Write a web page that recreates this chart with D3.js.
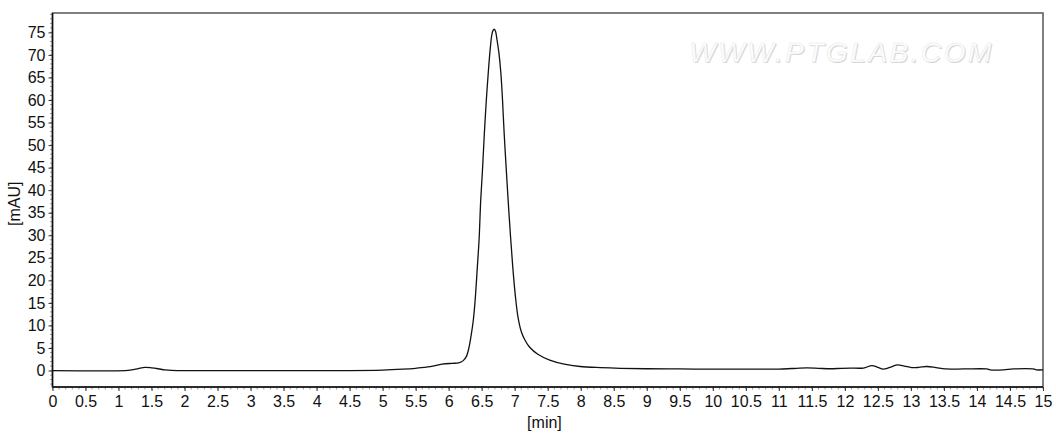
<!DOCTYPE html>
<html>
<head>
<meta charset="utf-8">
<script src="https://cdn.jsdelivr.net/npm/d3@7"></script>
<style>
  body { margin: 0; background: #fff; }
  svg { display: block; font-family: "Liberation Sans", Arial, sans-serif; }
</style>
</head>
<body>
<div id="chart"></div>
<script>
// chromatogram trace
const times = [0, 1.1, 1.2, 1.3, 1.4, 1.5, 1.6, 1.7, 1.8, 2, 4.5, 5.0, 5.3, 5.5, 5.72, 5.9, 6.05, 6.15, 6.22, 6.27, 6.31, 6.34, 6.373, 6.40, 6.434, 6.46, 6.485, 6.51, 6.54, 6.57, 6.606, 6.63, 6.65, 6.67, 6.69, 6.71, 6.73, 6.76, 6.79, 6.815, 6.84, 6.87, 6.90, 6.935, 6.97, 7.01, 7.05, 7.1, 7.15, 7.23, 7.35, 7.53, 7.75, 7.99, 8.3, 8.6, 9.0, 9.5, 10, 10.5, 11.0, 11.2, 11.42, 11.6, 11.78, 11.95, 12.08, 12.28, 12.41, 12.5, 12.58, 12.68, 12.79, 12.9, 13.01, 13.12, 13.24, 13.38, 13.52, 13.8, 14.15, 14.2, 14.4, 14.55, 14.85, 14.9, 15];
const mau = [0, 0, 0.15, 0.45, 0.7, 0.6, 0.4, 0.15, 0.02, 0, 0, 0.1, 0.3, 0.5, 0.85, 1.4, 1.6, 1.7, 2.2, 3.2, 5.3, 7.8, 11.2, 15.5, 23, 29, 37.8, 44, 52.6, 60, 67.4, 71.5, 74.2, 75.4, 75.7, 75.2, 73.5, 70.5, 66, 60, 52.6, 45, 37.8, 30, 23, 16.5, 11.8, 8.6, 6.9, 5.1, 3.6, 2.3, 1.4, 0.9, 0.65, 0.5, 0.4, 0.35, 0.3, 0.3, 0.32, 0.45, 0.58, 0.5, 0.4, 0.5, 0.55, 0.55, 1.1, 0.7, 0.3, 0.7, 1.25, 1.0, 0.65, 0.7, 0.9, 0.65, 0.35, 0.35, 0.35, 0.15, 0.15, 0.35, 0.35, 0.15, 0.15];

const xTicks = d3.range(0, 15.01, 0.5);
const yTicks = d3.range(0, 76, 5);
const watermark = "WWW.PTGLAB.COM";

const W = 1056, H = 437;
const margin = {top: 13, right: 13, bottom: 50, left: 52.5};
const width = W - margin.left - margin.right;
const height = H - margin.top - margin.bottom;

const svg = d3.select("#chart").append("svg")
    .attr("width", W)
    .attr("height", H);

const g = svg.append("g")
    .attr("transform", "translate(" + margin.left + "," + margin.top + ")");

const x = d3.scaleLinear().domain([0, 15]).range([0, width]);
const y = d3.scaleLinear().domain([-3.65, 79.3]).range([height, 0]);

// watermark (embossed look: grey shadow + white face)
[[1, 1, "#d4d4d4", "none"], [0, 0, "#ffffff", "#e6e6e6"]].forEach(([dx, dy, fill, stroke]) => {
    g.append("text")
        .attr("x", x(11.95) + dx)
        .attr("y", 49 + dy)
        .attr("text-anchor", "middle")
        .style("font-size", "28px")
        .style("font-style", "italic")
        .style("letter-spacing", "2.5px")
        .attr("fill", fill)
        .attr("stroke", stroke)
        .attr("stroke-width", 0.5)
        .text(watermark);
});

// minor ticks
g.append("g").selectAll("line")
    .data(d3.range(0, 150.5, 1).map(d => d / 10))
    .join("line")
    .attr("x1", d => x(d)).attr("x2", d => x(d))
    .attr("y1", height).attr("y2", height + 2.5)
    .attr("stroke", "#999").attr("stroke-width", 1);

g.append("g").selectAll("line")
    .data(d3.range(-3, 80, 1))
    .join("line")
    .attr("y1", d => y(d)).attr("y2", d => y(d))
    .attr("x1", 0).attr("x2", -2.5)
    .attr("stroke", "#999").attr("stroke-width", 1);

// axes
const xAxis = d3.axisBottom(x)
    .tickValues(xTicks)
    .tickSize(4)
    .tickPadding(5)
    .tickFormat(d3.format("~g"));

const yAxis = d3.axisLeft(y)
    .tickValues(yTicks)
    .tickSize(4)
    .tickPadding(3)
    .tickFormat(d3.format("d"));

const xg = g.append("g")
    .attr("transform", "translate(0," + height + ")")
    .call(xAxis);
const yg = g.append("g").call(yAxis);

[xg, yg].forEach(a => {
    a.select(".domain").remove();
    a.selectAll(".tick line").attr("stroke", "#333");
    a.selectAll(".tick text")
        .style("font-size", "16px")
        .style("font-family", "'Liberation Sans', Arial, sans-serif")
        .attr("fill", "#111");
});

// frame
g.append("rect")
    .attr("x", 0).attr("y", 0)
    .attr("width", width).attr("height", height)
    .attr("fill", "none")
    .attr("stroke", "#555")
    .attr("stroke-width", 1.5);
g.append("line")
    .attr("x1", 0).attr("x2", 0).attr("y1", 0).attr("y2", height)
    .attr("stroke", "#111").attr("stroke-width", 1.5);
g.append("line")
    .attr("x1", 0).attr("x2", width).attr("y1", height).attr("y2", height)
    .attr("stroke", "#111").attr("stroke-width", 1.5);

// trace
const pts = times.map((t, i) => [t, mau[i]]);
const line = d3.line()
    .x(d => x(d[0]))
    .y(d => y(d[1]))
    .curve(d3.curveCatmullRom.alpha(0.5));

g.append("path")
    .datum(pts)
    .attr("d", line)
    .attr("fill", "none")
    .attr("stroke", "#111")
    .attr("stroke-width", 1.3);

// axis titles
svg.append("text")
    .attr("transform", "translate(20," + (margin.top + y(37)) + ") rotate(-90)")
    .attr("text-anchor", "middle")
    .style("font-size", "16px")
    .attr("fill", "#111")
    .text("[mAU]");

svg.append("text")
    .attr("x", margin.left + x(7.45))
    .attr("y", 428)
    .attr("text-anchor", "middle")
    .style("font-size", "16px")
    .attr("fill", "#111")
    .text("[min]");
</script>
</body>
</html>
